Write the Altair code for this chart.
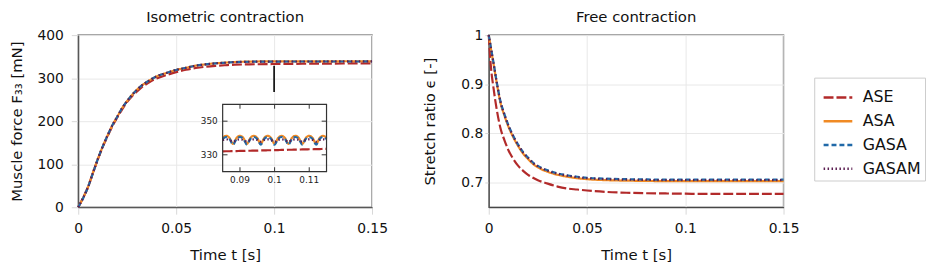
import altair as alt
import pandas as pd

FONT = "DejaVu Sans"

series = ["ASE", "ASA", "GASA", "GASAM"]
colors = ["#b22a2a", "#f08a24", "#2069a8", "#5c1f52"]
dashes = [[10, 3], [1, 0], [5, 3], [1.5, 2.5]]

# ---- Isometric contraction (muscle force, mN) ----
iso_t = [0, 0.0025, 0.005, 0.0075, 0.01, 0.0125, 0.015, 0.0175, 0.02, 0.0225, 0.025,
         0.0275, 0.03, 0.0325, 0.035, 0.0375, 0.04, 0.045, 0.05, 0.055, 0.06, 0.065,
         0.07, 0.075, 0.08, 0.09, 0.1, 0.11, 0.12, 0.13, 0.14, 0.15]
iso_ase = [0, 22, 47, 80, 111, 140, 165, 189, 209, 228, 245, 258, 269, 279, 287, 294,
           299, 307, 314, 319.5, 323.5, 326.5, 328.5, 330, 331.3, 332.2, 332.8, 333.2,
           333.6, 333.9, 334.1, 334.3]
iso_asa = [0, 22, 47, 80, 112, 141, 167, 191, 211, 231, 247, 261, 273, 283, 291, 298,
           304, 312, 319, 324, 329, 332, 334.5, 336, 337.5, 338.6, 339, 339, 339.1,
           339.1, 339.2, 339.2]
iso_gasa = [0, 21, 47, 79, 112, 141, 167, 191, 211, 231, 247, 261, 273, 283, 291, 298,
            304, 312, 319, 324, 329, 332, 334.3, 335.8, 337.2, 338.2, 338.5, 338.6, 338.6,
            338.7, 338.7, 338.8]
iso_gasam = [0, 22, 47, 80, 112, 141, 167, 191, 211, 231, 247, 261, 273, 283, 291, 298,
             304, 312, 319, 324, 329, 332, 334.3, 335.8, 337.2, 338.3, 338.6, 338.7, 338.7,
             338.8, 338.8, 338.9]

# ---- Inset (zoom of the plateau) ----
inset_t = [0.085, 0.086, 0.087, 0.088, 0.089, 0.090, 0.091, 0.092, 0.093, 0.094, 0.095,
           0.096, 0.097, 0.098, 0.099, 0.100, 0.101, 0.102, 0.103, 0.104, 0.105, 0.106,
           0.107, 0.108, 0.109, 0.110, 0.111, 0.112, 0.113, 0.114, 0.115]
inset_ase = [332.0, 332.1, 332.1, 332.2, 332.2, 332.3, 332.3, 332.4, 332.4, 332.5, 332.5,
             332.6, 332.6, 332.7, 332.7, 332.8, 332.8, 332.9, 332.9, 333.0, 333.0, 333.1,
             333.1, 333.2, 333.2, 333.3, 333.3, 333.4, 333.4, 333.5, 333.5]
inset_asa = [340.0, 341.3, 340.0, 336.5, 340.0, 341.3, 340.0, 336.5, 340.0, 341.3, 340.0,
             336.5, 340.0, 341.3, 340.0, 336.5, 340.0, 341.3, 340.0, 336.5, 340.0, 341.3,
             340.0, 336.5, 340.0, 341.3, 340.0, 336.5, 340.0, 341.3, 340.0]
inset_gasa = [339.4, 340.6, 339.4, 336.0, 339.4, 340.6, 339.4, 336.0, 339.4, 340.6, 339.4,
              336.0, 339.4, 340.6, 339.4, 336.0, 339.4, 340.6, 339.4, 336.0, 339.4, 340.6,
              339.4, 336.0, 339.4, 340.6, 339.4, 336.0, 339.4, 340.6, 339.4]
inset_gasam = [338.8, 339.2, 338.8, 337.8, 338.8, 339.2, 338.8, 337.8, 338.8, 339.2, 338.8,
               337.8, 338.8, 339.2, 338.8, 337.8, 338.8, 339.2, 338.8, 337.8, 338.8, 339.2,
               338.8, 337.8, 338.8, 339.2, 338.8, 337.8, 338.8, 339.2, 338.8]
inset_x_domain = [0.085, 0.115]
inset_y_domain = [320, 360]
inset_x_ticks = [0.09, 0.1, 0.11]
inset_x_labels = ["0.09", "0.1", "0.11"]
inset_y_ticks = [330, 350]
inset_y_labels = ["330", "350"]
pointer_t = [0.1]
pointer_top = [329]
pointer_bottom = [268]

# ---- Free contraction (stretch ratio) ----
free_t = [0, 0.001, 0.0025, 0.004, 0.006, 0.008, 0.01, 0.0125, 0.015, 0.0175, 0.02,
          0.0225, 0.025, 0.03, 0.035, 0.04, 0.045, 0.05, 0.06, 0.07, 0.08, 0.09, 0.1,
          0.11, 0.12, 0.13, 0.14, 0.15]
free_ase = [1.0, 0.94, 0.89, 0.85, 0.81, 0.786, 0.766, 0.748, 0.734, 0.724, 0.716, 0.71,
            0.705, 0.698, 0.692, 0.688, 0.686, 0.684, 0.681, 0.6795, 0.6785, 0.678,
            0.6775, 0.677, 0.677, 0.677, 0.677, 0.677]
free_asa = [1.0, 0.975, 0.94, 0.904, 0.862, 0.836, 0.814, 0.792, 0.774, 0.759, 0.748,
            0.738, 0.731, 0.722, 0.716, 0.712, 0.709, 0.707, 0.705, 0.704, 0.7035, 0.703,
            0.703, 0.703, 0.703, 0.703, 0.703, 0.703]
free_gasa = [1.0, 0.977, 0.942, 0.906, 0.865, 0.839, 0.817, 0.795, 0.777, 0.762, 0.751,
             0.741, 0.734, 0.725, 0.719, 0.715, 0.712, 0.71, 0.708, 0.707, 0.7065, 0.706,
             0.706, 0.706, 0.706, 0.706, 0.706, 0.706]
free_gasam = [1.0, 0.976, 0.941, 0.905, 0.864, 0.838, 0.816, 0.794, 0.776, 0.761, 0.75,
              0.74, 0.733, 0.724, 0.718, 0.714, 0.711, 0.709, 0.707, 0.706, 0.7055, 0.705,
              0.705, 0.705, 0.705, 0.705, 0.705, 0.705]
time_ticks = [0, 0.05, 0.1, 0.15]


def long(t, cols):
    rows = []
    for name, vals in zip(series, cols):
        for ti, v in zip(t, vals):
            rows.append({"t": ti, "v": v, "series": name})
    return pd.DataFrame(rows)


iso_df = long(iso_t, [iso_ase, iso_asa, iso_gasa, iso_gasam])
inset_df = long(inset_t, [inset_ase, inset_asa, inset_gasa, inset_gasam])
free_df = long(free_t, [free_ase, free_asa, free_gasa, free_gasam])

W_L, W_R, H = 297, 298, 174
INSET_XR = [146, 251]
INSET_YR = [138, 70]

legend = alt.Legend(title=None, orient="none", legendX=744, legendY=43,
                    symbolType="stroke", symbolSize=841, symbolStrokeWidth=2.5,
                    symbolOffset=4, labelFontSize=16, labelFont=FONT, labelColor="#111",
                    rowPadding=-8, padding=4, strokeColor="#cccccc",
                    labelOffset=9)
color = alt.Color("series:N", scale=alt.Scale(domain=series, range=colors), legend=legend)
dash = alt.StrokeDash("series:N", scale=alt.Scale(domain=series, range=dashes), legend=legend)

title_style = dict(fontSize=15, fontWeight="normal", font=FONT, color="#111", offset=3)
x_axis = alt.Axis(values=time_ticks, title="Time t [s]",
                  labelExpr="datum.value == 0 ? '0' : format(datum.value, '.2~f')",
                  labelOverlap=False, labelBound=False, labelFlush=False, labelLimit=300,
                  labelPadding=8, titlePadding=12)

# ---------- left panel ----------
main_lines = alt.Chart(iso_df).mark_line(strokeWidth=2.2, interpolate="monotone").encode(
    x=alt.X("t:Q", scale=alt.Scale(domain=[0, 0.15], nice=False), axis=x_axis),
    y=alt.Y("v:Q", scale=alt.Scale(domain=[0, 400], nice=False),
            axis=alt.Axis(values=[0, 100, 200, 300, 400], title="Muscle force F₃₃ [mN]",
                          labelPadding=8, titlePadding=13)),
    color=color, strokeDash=dash,
)
pointer = alt.Chart(pd.DataFrame({"t": pointer_t, "a": pointer_top, "b": pointer_bottom})).mark_rule(
    color="black", strokeWidth=1.6).encode(x="t:Q", y="a:Q", y2="b:Q")
main_layer = alt.layer(main_lines, pointer)

ix = alt.Scale(domain=inset_x_domain, range=INSET_XR, nice=False, zero=False)
iy = alt.Scale(domain=inset_y_domain, range=INSET_YR, nice=False, zero=False)

inset_lines = alt.Chart(inset_df).mark_line(strokeWidth=2.2, interpolate="monotone").encode(
    x=alt.X("t:Q", scale=ix, axis=None),
    y=alt.Y("v:Q", scale=iy, axis=None),
    color=color, strokeDash=dash,
)
frame_df = pd.DataFrame({"x0": [inset_x_domain[0]], "x1": [inset_x_domain[1]],
                         "y0": [inset_y_domain[0]], "y1": [inset_y_domain[1]]})
inset_frame = alt.Chart(frame_df).mark_rect(fillOpacity=0, stroke="#333", strokeWidth=1.2).encode(
    x="x0:Q", x2="x1", y="y0:Q", y2="y1")

xt = pd.DataFrame({"t": inset_x_ticks, "lab": inset_x_labels})
yt = pd.DataFrame({"v": inset_y_ticks, "lab": inset_y_labels})
tick_len_y = 2.6
tick_len_x = 0.0014
xt["b0"] = inset_y_domain[0]
xt["b1"] = inset_y_domain[0] + tick_len_y
xt["t0"] = inset_y_domain[1]
xt["t1"] = inset_y_domain[1] - tick_len_y
yt["l0"] = inset_x_domain[0]
yt["l1"] = inset_x_domain[0] + tick_len_x
yt["r0"] = inset_x_domain[1]
yt["r1"] = inset_x_domain[1] - tick_len_x

tk = dict(color="#333", strokeWidth=1)
xticks_b = alt.Chart(xt).mark_rule(**tk).encode(x="t:Q", y="b0:Q", y2="b1")
xticks_t = alt.Chart(xt).mark_rule(**tk).encode(x="t:Q", y="t0:Q", y2="t1")
yticks_l = alt.Chart(yt).mark_rule(**tk).encode(y="v:Q", x="l0:Q", x2="l1")
yticks_r = alt.Chart(yt).mark_rule(**tk).encode(y="v:Q", x="r0:Q", x2="r1")
xlabels = alt.Chart(xt).mark_text(baseline="top", dy=5, fontSize=9, font=FONT, color="#222").encode(
    x="t:Q", y="b0:Q", text="lab:N")
ylabels = alt.Chart(yt).mark_text(align="right", dx=-5, fontSize=9, font=FONT, color="#222").encode(
    x="l0:Q", y="v:Q", text="lab:N")

inset_layer = alt.layer(inset_lines, inset_frame, xticks_b, xticks_t, yticks_l, yticks_r,
                        xlabels, ylabels)

left = alt.layer(main_layer, inset_layer).resolve_scale(x="independent", y="independent").properties(
    width=W_L, height=H, title=alt.TitleParams("Isometric contraction", **title_style))

# ---------- right panel ----------
right = alt.Chart(free_df).mark_line(strokeWidth=2.2, interpolate="monotone").encode(
    x=alt.X("t:Q", scale=alt.Scale(domain=[0, 0.15], nice=False), axis=x_axis),
    y=alt.Y("v:Q", scale=alt.Scale(domain=[0.65, 1.0], nice=False, zero=False),
            axis=alt.Axis(values=[0.7, 0.8, 0.9, 1.0], format="~g", title="Stretch ratio ϵ [-]",
                          labelPadding=2, titlePadding=24, tickSize=4)),
    color=color, strokeDash=dash,
).properties(width=W_R, height=H,
             title=alt.TitleParams("Free contraction", **title_style))

chart = alt.hconcat(left, right, spacing=32).properties(
    padding={"left": 0, "top": 0, "right": 0, "bottom": 0}
).configure_view(stroke="#8a8a8a", strokeWidth=1.5).configure_axis(
    labelFont=FONT, titleFont=FONT, labelFontSize=14, titleFontSize=15,
    titleFontWeight="normal", labelColor="#111", titleColor="#111",
    gridColor="#e8e8e8", tickColor="#d8d8d8", tickSize=7, labelPadding=6,
    domainColor="#333", domainWidth=1, titlePadding=9,
)

chart.save("out.html", embed_options={"renderer": "svg", "actions": False})
